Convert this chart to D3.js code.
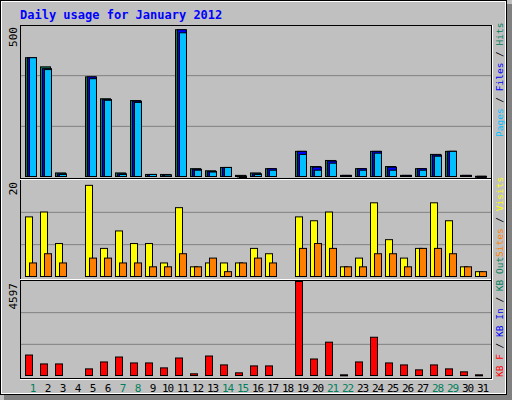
<!DOCTYPE html>
<html><head><meta charset="utf-8">
<script src="https://cdn.jsdelivr.net/npm/d3@7"></script>
<style>body{margin:0;background:#fff}svg{display:block}</style>
</head><body>
<script>
const days = d3.range(1, 32);
const weekend = [1,7,8,14,15,21,22,28,29];
const hits  = [394,364,15,0,331,259,15,253,10,10,486,29,22,33,7,15,29,0,86,36,56,7,29,86,36,7,29,76,86,7,4];
const files = [394,358,12,0,331,256,12,251,10,8,486,27,20,33,5,12,29,0,86,34,54,7,29,86,34,7,29,74,86,7,4];
const pages = [394,355,10,0,325,254,10,247,10,8,476,24,18,33,3,10,24,0,76,24,47,0,24,80,24,0,24,70,86,0,0];
const visits = [12.5,13.5,7,0,19,6,9.6,7,7,3,14.4,2.2,3,3,3,6,4.9,0,12.5,11.7,13.5,2.2,4,15.4,7.8,4,6,15.4,11.7,2.2,1.2];
const sites  = [3,4.9,3,0,4,4,3,3,2.2,2.2,4.9,2.2,4,1.2,3,4,3,0,6,7,6,2.2,2.2,4.9,4.9,2.2,6,6,4.9,2.2,1.2];
const kbytes = [1039,608,608,0,369,704,943,656,656,417,895,130,991,560,177,512,512,0,4597,847,1661,81,704,1900,656,560,321,560,369,225,81];
const maxLabels = ["500","20","4597"];

const W=512,H=400;
const svg=d3.select("body").append("svg").attr("width",W).attr("height",H);
svg.append("rect").attr("width",W).attr("height",H).attr("fill","#C0C0C0");
svg.append("rect").attr("x",507).attr("y",4).attr("width",5).attr("height",396).attr("fill","#808080");
svg.append("rect").attr("x",4).attr("y",395).attr("width",508).attr("height",5).attr("fill","#808080");
svg.append("rect").attr("x",0.5).attr("y",0.5).attr("width",506).attr("height",394).attr("fill","none").attr("stroke","#000");
svg.append("rect").attr("x",1.5).attr("y",1.5).attr("width",504).attr("height",392).attr("fill","none").attr("stroke","#fff");

const mono="'DejaVu Sans Mono', monospace";
svg.append("text").attr("x",20).attr("y",19).text("Daily usage for January 2012")
  .attr("font-family",mono).attr("font-weight","bold").attr("font-size",12).attr("fill","#0000FF");

const x=d3.scaleBand().domain(days).range([21,486]).paddingInner(0);
const L=20,R=491;
function panel(y0,y1,max,label){
  const y=d3.scaleLinear().domain([0,max]).range([y1,y0]);
  const g=svg.append("g");
  [1/3,2/3].forEach(f=>g.append("line").attr("x1",L).attr("x2",R).attr("y1",y(max*f)).attr("y2",y(max*f)).attr("stroke","#808080"));
  svg.append("text").attr("transform",`translate(17,${y0+2}) rotate(-90)`).attr("text-anchor","end")
    .attr("font-family",mono).attr("font-size",11).text(label);
  return {y,g};
}
function bars(g,y,data,off,w,color){
  g.selectAll(null).data(days).enter().filter(d=>data[d-1]>0).append("rect")
   .attr("x",d=>x(d)+4+off+0.5).attr("width",w)
   .attr("y",d=>y(data[d-1])+0.5).attr("height",d=>Math.max(1,y(0)-y(data[d-1])-1))
   .attr("fill",color).attr("stroke","#000");
}
const p1=panel(25,177,500,maxLabels[0]);
bars(p1.g,p1.y,hits,0,10,"#00805C");
bars(p1.g,p1.y,files,2,9,"#0000FF");
bars(p1.g,p1.y,pages,4,7,"#00C0FF");
const p2=panel(180,277,20,maxLabels[1]);
bars(p2.g,p2.y,visits,0,7,"#FFFF00");
bars(p2.g,p2.y,sites,4,7,"#FF8000");
const p3=panel(281,376,4597,maxLabels[2]);
bars(p3.g,p3.y,kbytes,0,7,"#FF0000");

[[25,178],[179,279],[280,378]].forEach(([a,b])=>{
  svg.append("rect").attr("x",L+0.5).attr("y",a+0.5).attr("width",R-L).attr("height",b-a).attr("fill","none").attr("stroke","#000");
});
[179,279].forEach(v=>svg.append("line").attr("x1",L).attr("x2",R).attr("y1",v+0.5).attr("y2",v+0.5).attr("stroke","#fff"));
svg.append("line").attr("x1",L).attr("x2",R+1).attr("y1",379.5).attr("y2",379.5).attr("stroke","#fff");
svg.append("line").attr("x1",R+1.5).attr("x2",R+1.5).attr("y1",25).attr("y2",380).attr("stroke","#fff");

svg.selectAll(null).data(days).enter().append("text")
  .attr("x",d=>x(d)+x.bandwidth()/2+4).attr("y",392).attr("text-anchor","middle")
  .attr("font-family",mono).attr("font-size",11).attr("letter-spacing",-1)
  .attr("fill",d=>weekend.includes(d)?"#00805C":"#000").text(d=>d);

function legend(yBottom,parts){
  const t=svg.append("text").attr("transform",`translate(503,${yBottom}) rotate(-90)`)
    .attr("font-family",mono).attr("font-size",9.5);
  parts.forEach(([s,c])=>t.append("tspan").attr("fill",c).text(s));
}
legend(137,[["Pages","#00C0FF"],["/","#000"],["Files","#0000FF"],["/","#000"],["Hits","#00805C"]].map(([s,c])=>[s==="/"?" / ":s,c]));
legend(257,[["Sites","#FF8000"],[" / ","#000"],["Visits","#FFFF00"]]);
legend(377,[["KB F","#FF0000"],[" / ","#000"],["KB In","#0000FF"],[" / ","#000"],["KB Out","#00805C"]]);
</script>
</body></html>
